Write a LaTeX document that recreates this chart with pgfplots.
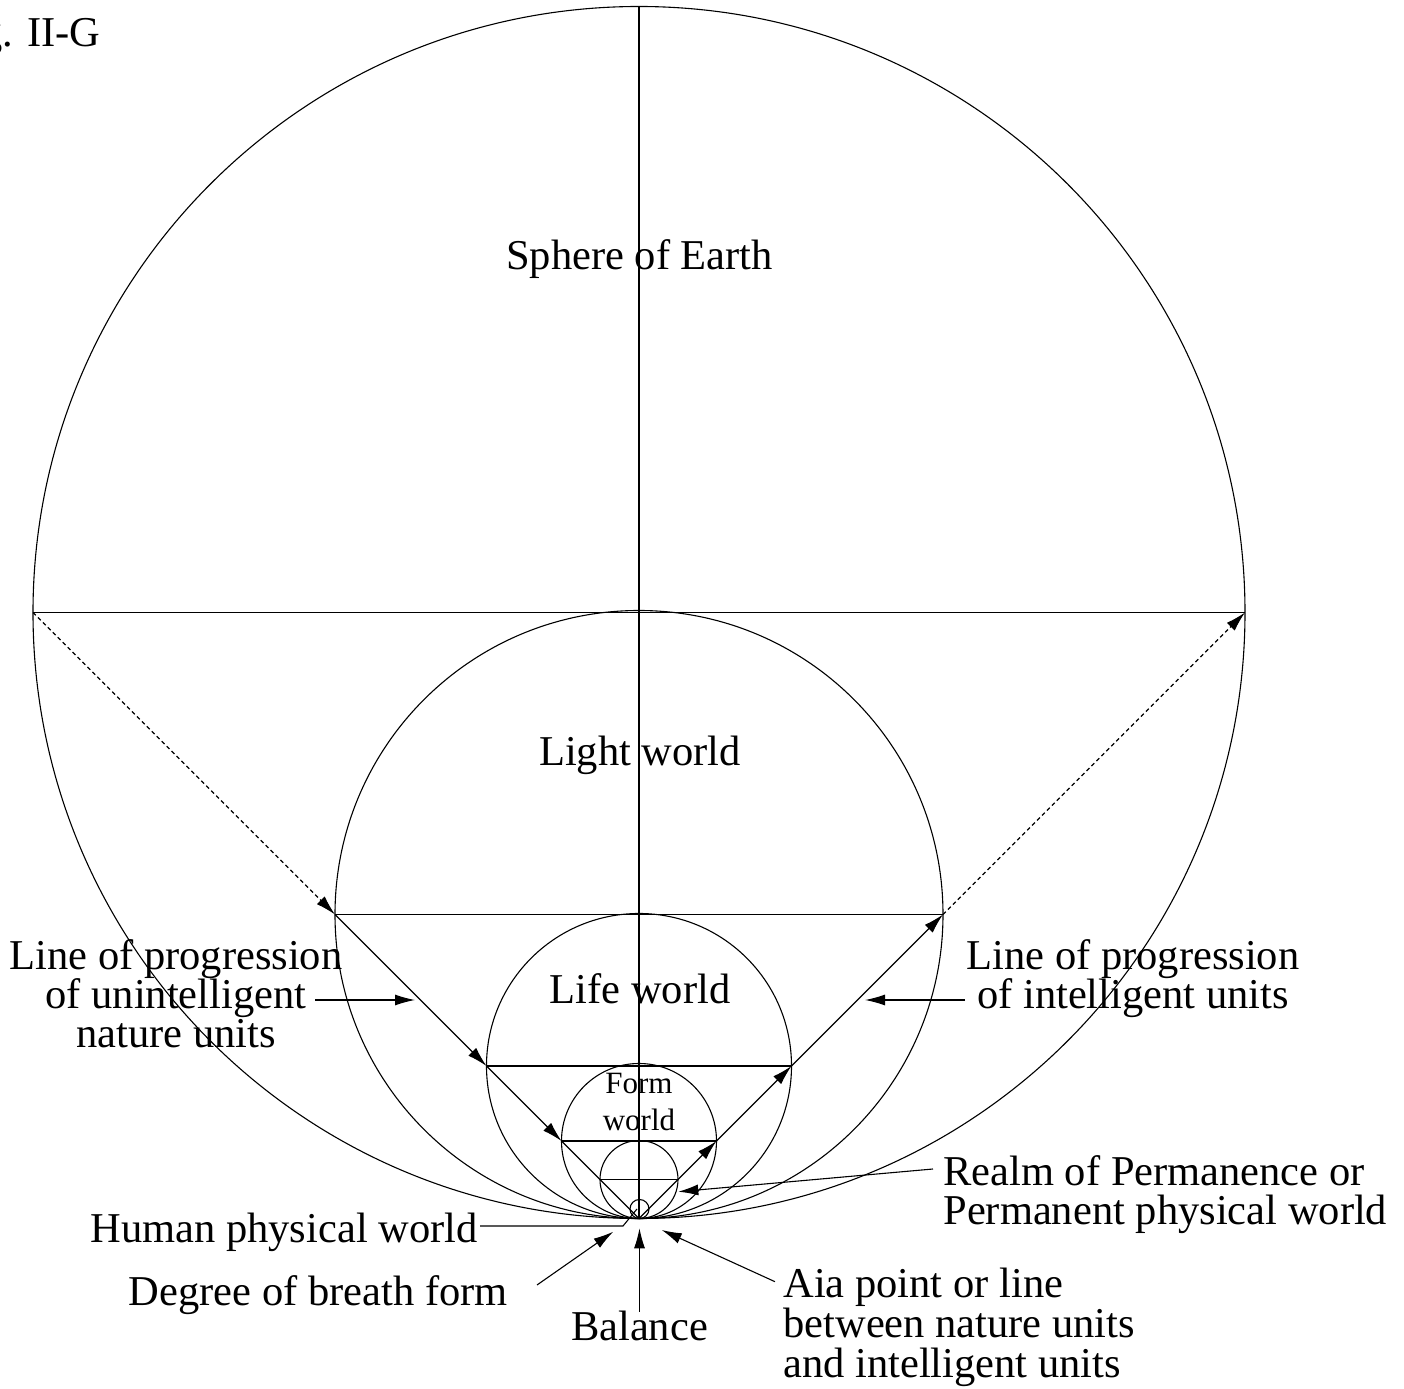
\documentclass[border=0pt]{standalone}
\usepackage{pgfplots}
\pgfplotsset{compat=1.18}
\usepackage{fontspec}
\setmainfont{Liberation Serif}
\usetikzlibrary{arrows.meta}

\begin{document}
\begin{tikzpicture}[
  lbl/.style={font=\fontsize{21.25}{20}\selectfont, inner sep=0pt, text=black},
  sml/.style={font=\fontsize{15.5}{15}\selectfont, inner sep=0pt, text=black},
  arr/.style={-{Latex[length=10pt,width=5.5pt]}},
  ln/.style={black, line width=0.55pt}]
\begin{axis}[width=702pt,height=694pt,scale only axis,
  xmin=0,xmax=1404,ymin=0,ymax=1388,axis lines=none,clip=false]

% circles
\draw[ln] (axis cs:639,775.5) circle[radius=303pt];
\draw[ln] (axis cs:639,473.5) circle[radius=152pt];
\draw[ln] (axis cs:639,322) circle[radius=76.25pt];
\draw[ln] (axis cs:639,247) circle[radius=38.75pt];
\draw[ln] (axis cs:639,208.5) circle[radius=19.5pt];
\draw[ln] (axis cs:639.5,179) circle[radius=4.75pt];

% vertical axis line
\addplot[ln] coordinates {(639,1381.5) (639,169.5)};

% horizontal diameters
\addplot[ln] coordinates {(33,775.5) (1245,775.5)};
\addplot[ln] coordinates {(335,473.5) (943,473.5)};
\addplot[ln] coordinates {(486.5,322) (791.5,322)};
\addplot[ln] coordinates {(561.5,247) (716.5,247)};
\addplot[ln] coordinates {(600,208.5) (678,208.5)};

% left line of progression (downwards)
\addplot[ln, arr, dash pattern=on 2pt off 1.5pt] coordinates {(33,775.5) (335,473.5)};
\addplot[ln, arr] coordinates {(335,473.5) (486.5,322)};
\addplot[ln, arr] coordinates {(486.5,322) (561.5,247)};
\addplot[ln] coordinates {(561.5,247) (639,169.5)};

% right line of progression (upwards)
\addplot[ln, arr] coordinates {(639,169.5) (716.5,247)};
\addplot[ln, arr] coordinates {(716.5,247) (791.5,322)};
\addplot[ln, arr] coordinates {(791.5,322) (943,473.5)};
\addplot[ln, arr, dash pattern=on 2pt off 1.5pt] coordinates {(943,473.5) (1245,775.5)};

% label leaders
\addplot[ln, arr] coordinates {(315,388) (415,388)};
\addplot[ln, arr] coordinates {(965,388) (865,388)};
\addplot[ln, arr] coordinates {(933,219) (678.3,196.3)};
\addplot[ln] coordinates {(480,162) (623,162) (637,179)};
\addplot[ln, arr] coordinates {(537,103) (613.3,156.3)};
\addplot[ln, arr] coordinates {(639.5,76.3) (639.5,159.7)};
\addplot[ln, arr] coordinates {(775,106.3) (661.7,158)};

% texts
\node[lbl, anchor=base east] at (axis cs:101,1341) {Fig. II-G};
\node[lbl, anchor=base] at (axis cs:639.5,1118) {Sphere of Earth};
\node[lbl, anchor=base] at (axis cs:640,622) {Light world};
\node[lbl, anchor=base] at (axis cs:640,384) {Life world};
\node[sml, anchor=base] at (axis cs:639,294) {Form};
\node[sml, anchor=base] at (axis cs:639,257) {world};

\node[lbl, anchor=base] at (axis cs:176,418) {Line of progression};
\node[lbl, anchor=base] at (axis cs:176,379) {of unintelligent};
\node[lbl, anchor=base] at (axis cs:176,340) {nature units};

\node[lbl, anchor=base] at (axis cs:1133,418) {Line of progression};
\node[lbl, anchor=base] at (axis cs:1133,379) {of intelligent units};

\node[lbl, anchor=base west] at (axis cs:943,203) {Realm of Permanence or};
\node[lbl, anchor=base west] at (axis cs:943,163) {Permanent physical world};

\node[lbl, anchor=base east] at (axis cs:478,146) {Human physical world};
\node[lbl, anchor=base east] at (axis cs:508,83) {Degree of breath form};
\node[lbl, anchor=base] at (axis cs:639.5,48) {Balance};

\node[lbl, anchor=base west] at (axis cs:783,91) {Aia point or line};
\node[lbl, anchor=base west] at (axis cs:783,51) {between nature units};
\node[lbl, anchor=base west] at (axis cs:783,11) {and intelligent units};
\end{axis}
\pgfresetboundingbox
\path (current axis.south west) rectangle (current axis.north east);
\end{tikzpicture}
\end{document}
